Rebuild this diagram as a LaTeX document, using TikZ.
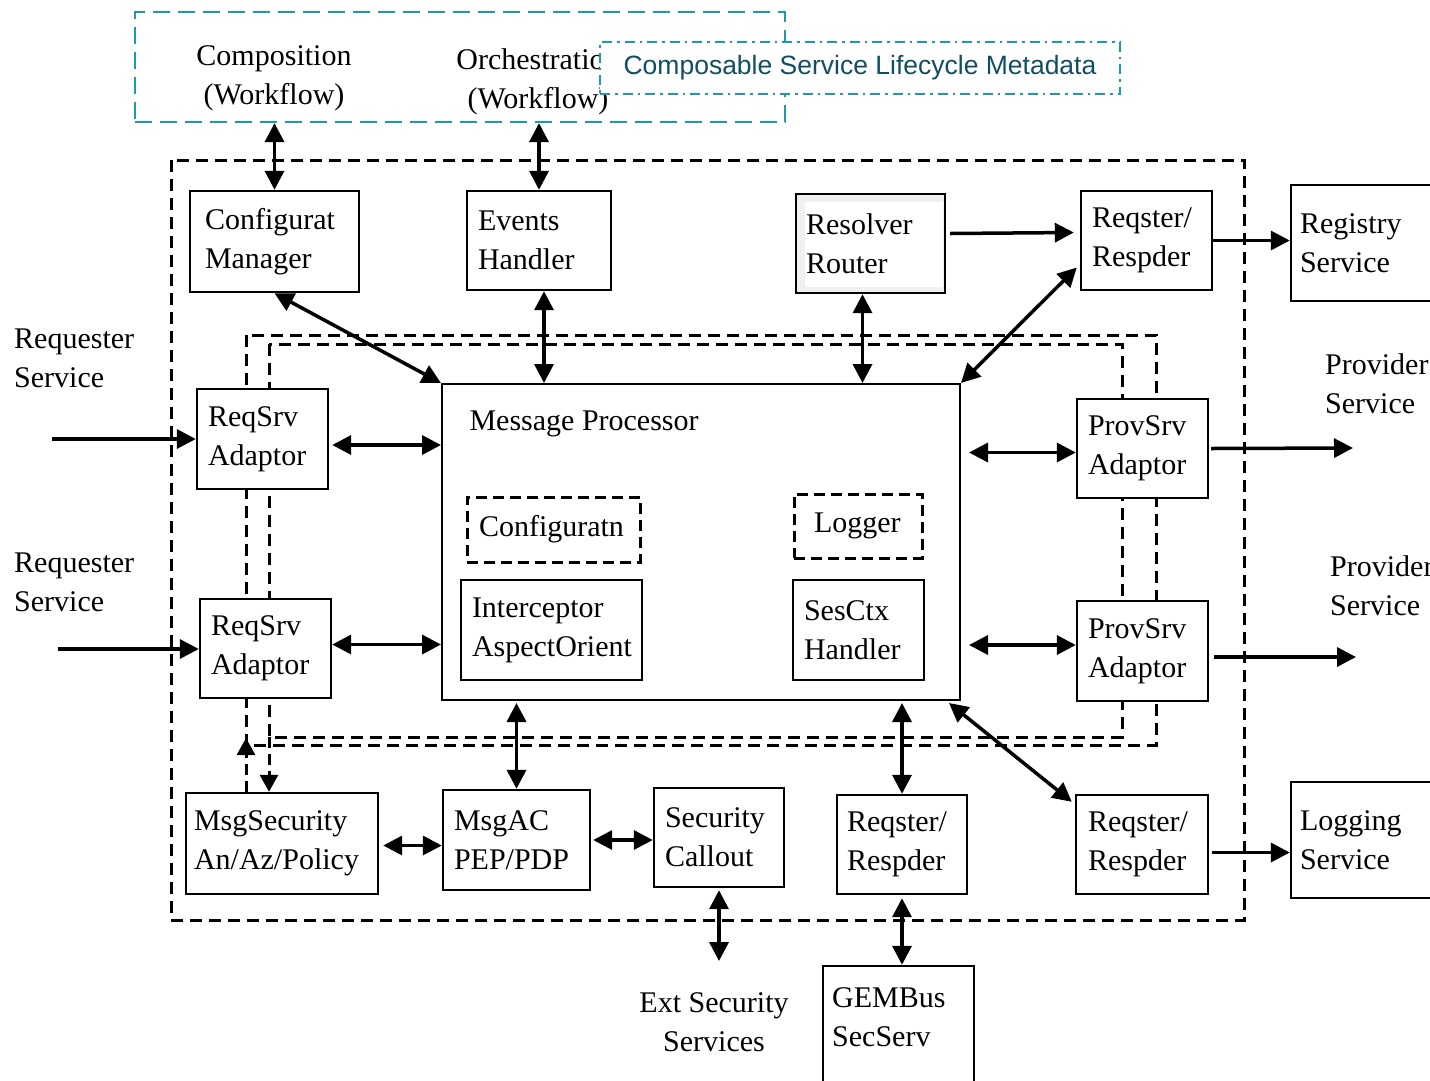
\documentclass[tikz,border=0pt]{standalone}
\usepackage{fontspec}
\setmainfont{Liberation Serif}
\newfontfamily\metafont{Liberation Sans}
\usetikzlibrary{arrows.meta,calc}
\definecolor{tealline}{RGB}{26,156,170}
\definecolor{tealtext}{RGB}{18,78,98}
\hyphenpenalty=10000
\exhyphenpenalty=10000

% \blk{style}{name}{x1}{y1}{x2}{y2}{left padding}{text}
\newcommand\blk[8]{%
  \pgfmathsetmacro\blkW{#5-#3}%
  \pgfmathsetmacro\blkH{#6-#4}%
  \pgfmathsetmacro\blkT{#5-#3-2*#7}%
  \node[#1, minimum width=\blkW pt, minimum height=\blkH pt,
        text width=\blkT pt, inner xsep=#7pt]
        (#2) at ({(#3+#5)/2},{(#4+#6)/2}) {#8};}

\begin{document}
\begin{tikzpicture}[x=1pt, y=-1pt,
  font=\fontsize{30}{39}\selectfont,
  box/.style={draw, line width=2.4pt, fill=white, align=left, inner ysep=0pt},
  dbox/.style={box, line width=3pt, dash pattern=on 11pt off 6pt},
  mpbox/.style={draw, line width=2pt, fill=white},
  bigdash/.style={line width=3pt, dash pattern=on 12pt off 7pt},
  tealbox/.style={draw=tealline, line width=2.2pt, dash pattern=on 17pt off 8pt},
  metabox/.style={draw=tealline, fill=white, line width=2pt,
    dash pattern=on 10pt off 5pt on 2.5pt off 5pt, text=tealtext,
    font=\metafont\fontsize{26.5}{31}\selectfont},
  tip/.tip={Triangle[length=19pt, width=19pt]},
  dbl/.style={line width=3.5pt, tip-tip},
  sgl/.style={line width=3.5pt, -tip},
  dsgl/.style={line width=3pt, dash pattern=on 11pt off 6pt, -{Triangle[length=17pt, width=18pt]}},
  rrfill/.style={fill=gray!12, path picture={
    \fill[white] ($(path picture bounding box.north west)+(9,8)$)
      rectangle ($(path picture bounding box.south east)+(-2,-6)$);}}
]
\clip (0,0) rectangle (1430,1080);

% bus boundary and the adaptor frames
\draw[bigdash] (171,160) rectangle (1244,920);
\draw[bigdash] (246,335) rectangle (1156,745);
\draw[bigdash] (269,344) rectangle (1122,737);

% workflow layer
\node[tealbox, minimum width=650pt, minimum height=110pt] (wf) at (460,67) {};
\node[align=center] (comp) at (274,78) {Composition\\(Workflow)};
\node[align=center] (orch) at (538,82) {Orchestration\\(Workflow)};
\node[metabox, minimum width=520pt, minimum height=52pt] (meta) at (860,68)
  {Composable Service Lifecycle Metadata};

% components
\blk{box}{cm}{190}{191}{359}{292}{15}{Configurat\\Manager}
\blk{box}{eh}{467}{191}{611}{290}{11}{Events\\Handler}
\blk{box, rrfill}{rr}{796}{194}{945}{293}{10}{Resolver\\Router}
\blk{box}{rq1}{1081}{191}{1212}{290}{11}{Reqster/\\Respder}
\blk{box}{reg}{1291}{185}{1445}{301}{9}{Registry\\Service}
\blk{box}{rs1}{197}{389}{328}{489}{11}{ReqSrv\\Adaptor}
\blk{box}{rs2}{200}{599}{331}{698}{11}{ReqSrv\\Adaptor}

\node[mpbox, minimum width=518pt, minimum height=316pt] (mp) at (701,542) {};
\node[anchor=west] (mptitle) at (466,424) {Message Processor};
\blk{dbox}{cfg}{467}{497}{640}{562}{12}{\raisebox{4pt}{Configuratn}}
\blk{dbox}{lg}{794}{494}{922}{558}{20}{\raisebox{3pt}{Logger}}
\blk{box}{icp}{461}{580}{642}{680}{11}{Interceptor\\AspectOrient}
\blk{box}{ses}{793}{580}{924}{680}{11}{SesCtx\\Handler}

\blk{box}{ps1}{1077}{399}{1208}{498}{11}{ProvSrv\\Adaptor}
\blk{box}{ps2}{1077}{601}{1208}{701}{11}{ProvSrv\\Adaptor}

\blk{box}{ms}{186}{793}{378}{894}{8}{MsgSecurity\\An/Az/Policy}
\blk{box}{mac}{443}{790}{590}{890}{11}{MsgAC\\PEP/PDP}
\blk{box}{sc}{654}{788}{784}{887}{11}{Security\\Callout}
\blk{box}{rm}{837}{795}{967}{894}{10}{Reqster/\\Respder}
\blk{box}{rr2}{1076}{795}{1208}{894}{12}{Reqster/\\Respder}
\blk{box}{lgs}{1291}{782}{1445}{898}{9}{Logging\\Service}
\blk{box}{gem}{823}{966}{974}{1100}{9}{}
\node[anchor=north west, align=left, inner sep=0pt] (gemtxt) at (832,987) {GEMBus\\SecServ};

% outside labels
\node[anchor=west, align=left, inner sep=0pt] (req1) at (14,358) {Requester\\Service};
\node[anchor=west, align=left, inner sep=0pt] (req2) at (14,582) {Requester\\Service};
\node[anchor=west, align=left, inner sep=0pt] (prov1) at (1325,384) {Provider\\Service};
\node[anchor=west, align=left, inner sep=0pt] (prov2) at (1330,586) {Provider\\Service};
\node[align=center, inner sep=0pt] (ext) at (714,1022) {Ext Security\\Services};

% free ends
\coordinate (in1) at (52,439);
\coordinate (in2) at (58,649);
\coordinate (out1) at (1353,448);
\coordinate (out2) at (1356,657);
\coordinate (extend) at (719,961);
\coordinate (fl) at (246,738);
\coordinate (fr) at (269,737);

% connectors
\draw[dbl] (wf.south -| cm.north) -- (cm.north);
\draw[dbl] (wf.south -| eh.north) -- (eh.north);
\draw[dbl] (cm.south) -- (mp.north west);
\draw[dbl] ($(eh.south)+(5,0)$) -- ($(eh.south |- mp.north)+(5,0)$);
\draw[dbl] ([xshift=-8pt]rr.south) -- ([xshift=-8pt]rr.south |- mp.north);
\draw[sgl] ($(rr.east)+(4,-10)$) -- ($(rq1.west)+(-6,-8)$);
\draw[dbl] (mp.north east) -- ($(rq1.west)+(-3,27)$);
\draw[sgl] (rq1.east) -- (rq1.east -| reg.west);

\draw[sgl] (in1) -- (in1 -| rs1.west);
\draw[sgl] (in2) -- (in2 -| rs2.west);
\draw[dbl] ($(rs1.east)+(3,6)$) -- ($(rs1.east -| mp.west)+(0,6)$);
\draw[dbl] ($(rs2.east)+(0,-4)$) -- ($(rs2.east -| mp.west)+(0,-4)$);

\draw[dbl] ($(ps1.west -| mp.east)+(8,4)$) -- ($(ps1.west)+(0,4)$);
\draw[dbl] ($(ps2.west -| mp.east)+(8,-6)$) -- ($(ps2.west)+(0,-6)$);
\draw[sgl] ($(ps1.east)+(2,0)$) -- (out1);
\draw[sgl] ($(ps2.east)+(5,6)$) -- (out2);

\draw[dbl] ($(mac.north |- mp.south)+(0,2)$) -- (mac.north);
\draw[dbl] ($(ms.east)+(4,2)$) -- ($(ms.east -| mac.west)+(0,2)$);
\draw[dbl] ($(mac.east)+(2,0)$) -- (mac.east -| sc.west);
\draw[dbl] ($(sc.south)+(0,2)$) -- (extend);
\draw[dbl] ($(rm.north |- mp.south)+(0,2)$) -- (rm.north);
\draw[dbl] ($(mp.south east)+(-12,2)$) -- ($(rr2.north west)+(-3,8)$);
\draw[dbl] ($(rm.south)+(0,3)$) -- (rm.south |- gem.north);
\draw[sgl] ($(rr2.east)+(3,8)$) -- ($(rr2.east -| lgs.west)+(0,8)$);

% security side channel
\draw[dsgl] (ms.north -| fl) -- (fl);
\draw[dsgl] (fr) -- (ms.north -| fr);
\end{tikzpicture}
\end{document}
